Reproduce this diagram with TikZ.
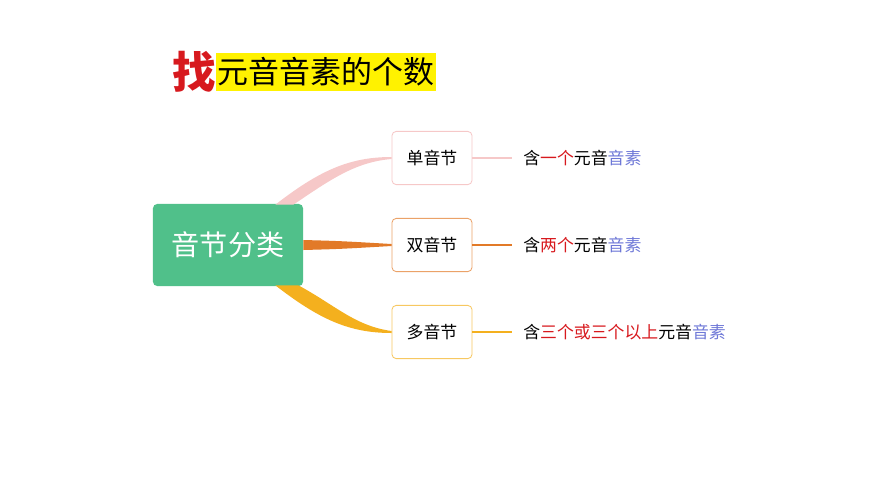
\documentclass[tikz,border=0pt]{standalone}
\usepackage{fontspec}
\setmainfont{Noto Sans CJK SC}
\usetikzlibrary{calc}
\definecolor{rootgreen}{RGB}{80,192,138}
\definecolor{pinkline}{RGB}{246,200,200}
\definecolor{orangeline}{RGB}{226,122,40}
\definecolor{yellowline}{RGB}{244,176,30}
\definecolor{redtxt}{RGB}{215,25,30}
\definecolor{bluetxt}{RGB}{110,120,215}
\tikzset{
  leaf/.style={draw, rounded corners=3pt, fill=white, minimum width=2cm, minimum height=1.33cm, font=\fontsize{12}{14}\selectfont, line width=0.6pt},
  note/.style={anchor=west, font=\fontsize{12}{14}\selectfont, inner sep=0pt}
}
\newcommand{\hl}[1]{\textcolor{redtxt}{#1}}
\newcommand{\bl}[1]{\textcolor{bluetxt}{#1}}
\begin{document}
\begin{tikzpicture}[x=0.025cm, y=-0.025cm]
	\useasboundingbox (0,0) rectangle (870,489);
	
	%title
	\node[fill=yellow, anchor=west, inner sep=1pt, minimum height=0.95cm, font=\fontsize{22}{24}\selectfont] (title) at (216,72){元音音素的个数};
	\node[anchor=east, inner sep=0pt, text=redtxt, font=\fontsize{31}{33}\selectfont\bfseries] (zhao) at (title.west){找};
	
	%root
	\node[fill=rootgreen, rounded corners=3pt, minimum width=3.75cm, minimum height=2.05cm, text=white, font=\fontsize{20}{22}\selectfont] (root) at (228,245){音节分类};
	
	%leaves
	\node[leaf, draw=pinkline] (s1) at (432,158){单音节};
	\node[leaf, draw=orangeline!70] (s2) at (432,245){双音节};
	\node[leaf, draw=yellowline!70] (s3) at (432,332){多音节};
	
	%branches
	\fill[pinkline] ($(root.north east)+(-28,1)$) .. controls (320,170) and (350,157) .. ($(s1.west)+(0,-1)$) -- ($(s1.west)+(0,1)$) .. controls (355,162) and (330,180) .. ($(root.north east)+(-10,1)$) -- cycle;
	\fill[orangeline] ($(root.east)+(0,-5)$) .. controls (340,241) .. ($(s2.west)+(0,-1)$) -- ($(s2.west)+(0,1)$) .. controls (340,249) .. ($(root.east)+(0,5)$) -- cycle;
	\fill[yellowline] ($(root.south east)+(-28,-1)$) .. controls (320,320) and (350,333) .. ($(s3.west)+(0,1)$) -- ($(s3.west)+(0,-1)$) .. controls (355,326) and (335,305) .. ($(root.south east)+(-5,-1)$) -- cycle;
	
	%notes
	\coordinate (e1) at (512,158);
	\coordinate (e2) at (512,245);
	\coordinate (e3) at (512,332);
	\draw[pinkline, line width=1pt] (s1.east) -- (e1);
	\draw[orangeline, line width=1pt] (s2.east) -- (e2);
	\draw[yellowline, line width=1pt] (s3.east) -- (e3);
	\node[note] (n1) at (523,158){含\hl{一个}元音\bl{音素}};
	\node[note] (n2) at (523,245){含\hl{两个}元音\bl{音素}};
	\node[note] (n3) at (523,332){含\hl{三个或三个以上}元音\bl{音素}};
	
\end{tikzpicture}
\end{document}
